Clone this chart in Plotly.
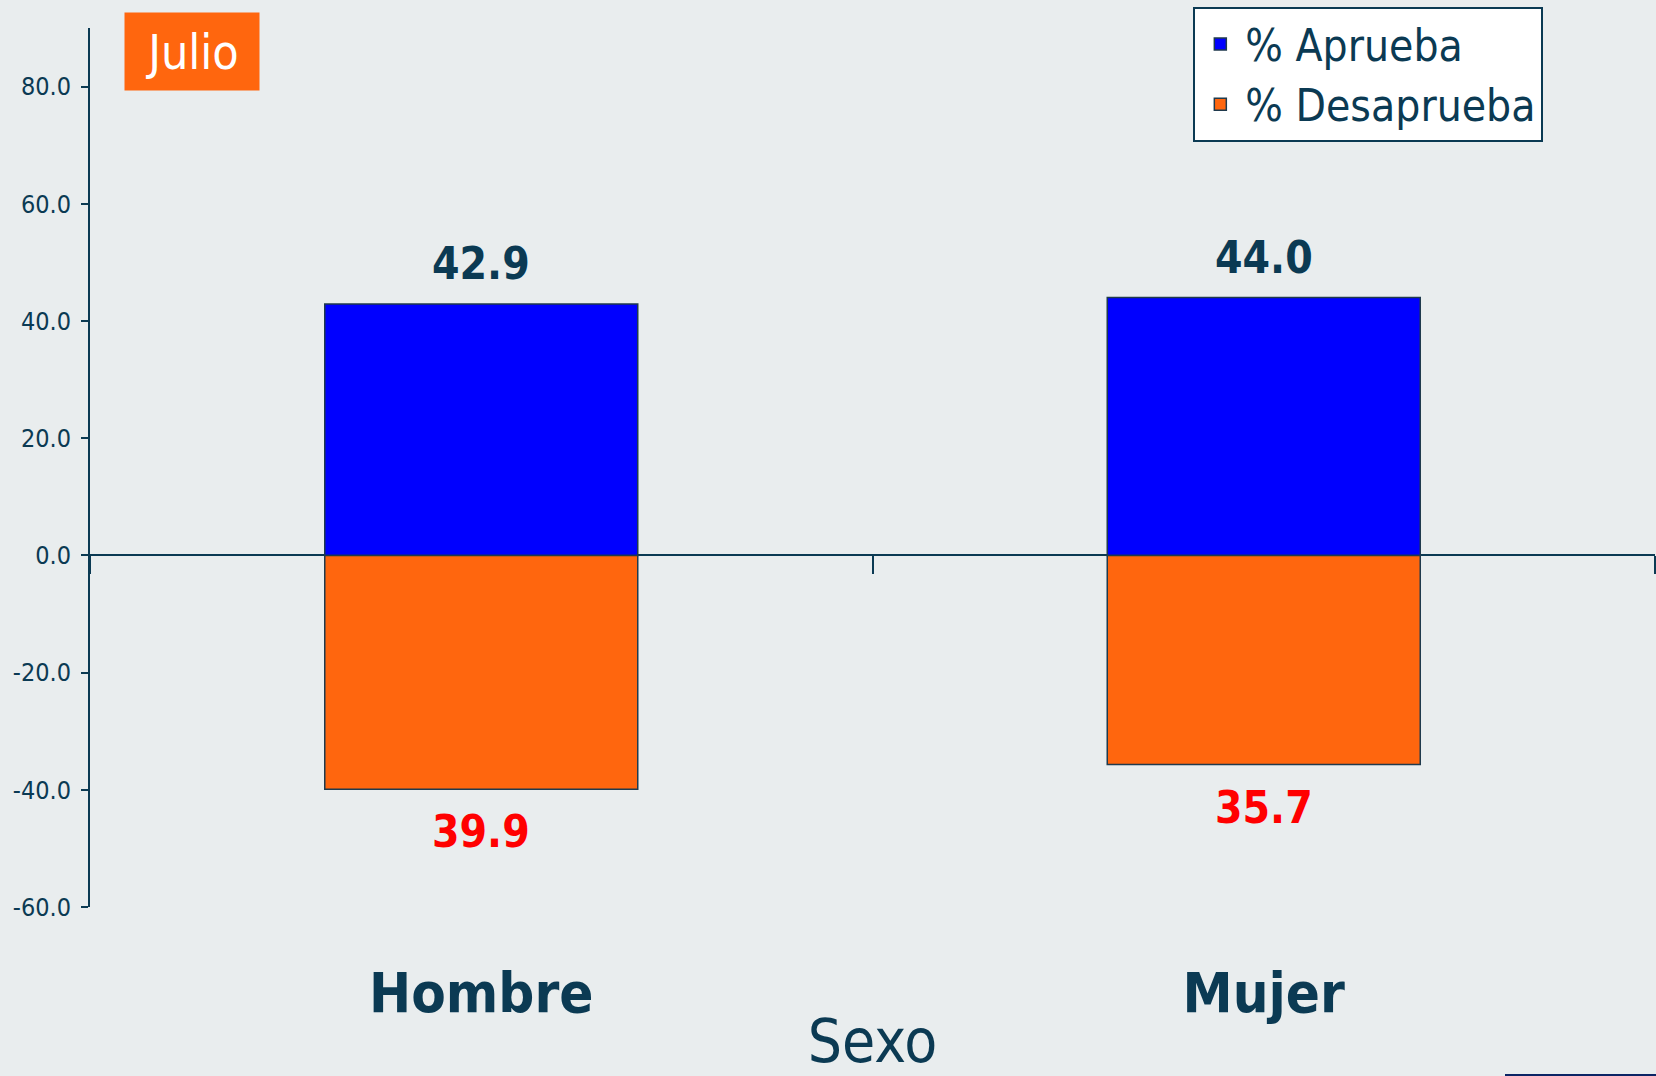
import plotly.graph_objects as go

categories = ["Hombre", "Mujer"]
aprueba = [42.9, 44.0]
desaprueba = [39.9, 35.7]
series_names = ["% Aprueba", "% Desaprueba"]
y_tick_values = [-60, -40, -20, 0, 20, 40, 60, 80]
x_title = "Sexo"
badge_text = "Julio"

NAVY = "#0B3A53"
BG = "#E9EDEE"
FONT = "Tahoma, 'DejaVu Sans Condensed', 'Noto Sans', sans-serif"

fig = go.Figure()
fig.add_trace(go.Bar(
    x=categories, y=aprueba, name=series_names[0], width=0.4,
    xaxis="x", yaxis="y",
    marker=dict(color="#0000FF", line=dict(color="#1F3A4D", width=1.5)),
))
fig.add_trace(go.Bar(
    x=categories, y=[-v for v in desaprueba], name=series_names[1], width=0.4,
    xaxis="x2", yaxis="y",
    marker=dict(color="#FF660E", line=dict(color="#1F3A4D", width=1.5)),
))

for c, v in zip(categories, aprueba):
    fig.add_annotation(x=c, y=v, text=f"<b>{v:.1f}</b>", showarrow=False,
                       yanchor="bottom", yshift=13,
                       font=dict(size=44, color=NAVY, family=FONT))
for c, v in zip(categories, desaprueba):
    fig.add_annotation(x=c, y=-v, text=f"<b>{v:.1f}</b>", showarrow=False,
                       yanchor="top", yshift=-15,
                       font=dict(size=44, color="#FF0000", family=FONT))

fig.add_annotation(xref="paper", yref="paper", x=0.0217, y=1.018,
                   xanchor="left", yanchor="top", text=badge_text,
                   showarrow=False, bgcolor="#FF660E", width=134, height=77,
                   borderpad=0, font=dict(size=48, color="white", family=FONT))

# small decorative bar at bottom-right
fig.add_shape(type="rect", xref="paper", yref="paper",
              x0=(1505 - 90) / 1565, x1=1.01, y0=-0.194, y1=-0.19,
              fillcolor="#0B2565", line=dict(width=0))

fig.update_layout(
    width=1656, height=1076,
    margin=dict(l=90, r=1, t=28, b=169),
    paper_bgcolor=BG, plot_bgcolor=BG,
    barmode="relative",
    showlegend=True,
    legend=dict(x=0.705, y=1.024, xanchor="left", yanchor="top",
                bgcolor="white", bordercolor=NAVY, borderwidth=2,
                itemwidth=40,
                font=dict(size=44, color=NAVY, family=FONT)),
    font=dict(family=FONT, color=NAVY),
    xaxis=dict(type="category", showline=False, showgrid=False, zeroline=False,
               ticks="", range=[-0.5, 1.5], ticklabelstandoff=48, automargin=False,
               tickfont=dict(size=56, color=NAVY, family=FONT, weight="bold"),
               title=dict(text=x_title, standoff=15,
                          font=dict(size=60, color=NAVY, family=FONT))),
    xaxis2=dict(type="category", overlaying="x", anchor="free", position=0.4,
                side="bottom", range=[-0.5, 1.5], tickson="boundaries",
                ticks="outside", ticklen=18, tickwidth=2, tickcolor=NAVY,
                showticklabels=False, showline=False, showgrid=False, zeroline=False),
    yaxis=dict(range=[-60, 90], tickmode="array", tickvals=y_tick_values,
               ticktext=[f"{v:.1f}" for v in y_tick_values], automargin=False,
               ticks="outside", ticklen=7, tickwidth=2, ticklabelstandoff=5,
               tickcolor=NAVY, showline=True, linecolor=NAVY, linewidth=2,
               showgrid=False, zeroline=True, zerolinecolor=NAVY, zerolinewidth=2,
               tickfont=dict(size=25, color=NAVY, family=FONT)),
)

fig.write_html(
    "out.html",
    config={"displayModeBar": False},
    post_script="document.body.style.margin='0';document.body.style.background='#E9EDEE';",
)
